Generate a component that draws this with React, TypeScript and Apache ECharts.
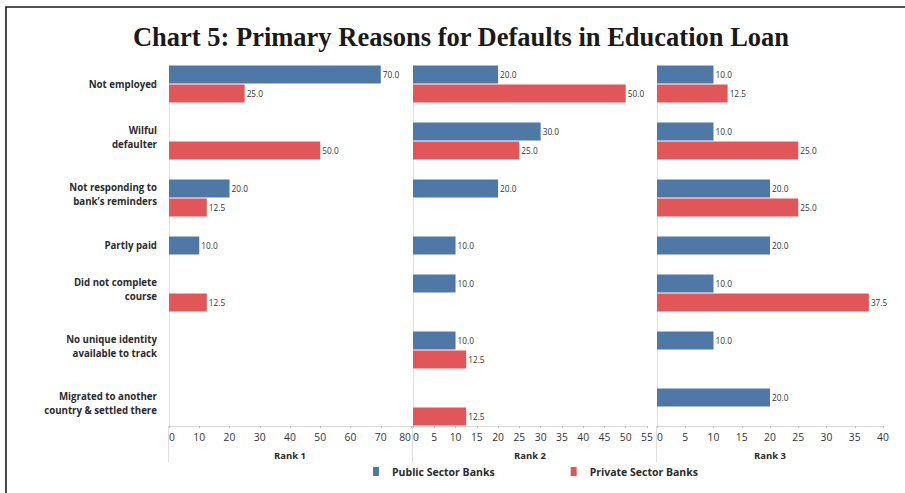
import React, { useEffect, useRef } from "react";
import * as echarts from "echarts";

const titleText = "Chart 5: Primary Reasons for Defaults in Education Loan";
const reasons = [
  "Not employed",
  "Wilful\ndefaulter",
  "Not responding to\nbank’s reminders",
  "Partly paid",
  "Did not complete\ncourse",
  "No unique identity\navailable to track",
  "Migrated to another\ncountry & settled there",
];
const ranks = ["Rank 1", "Rank 2", "Rank 3"];
const rankMax = [80, 55, 40];
const rankInterval = [10, 5, 5];
const seriesNames = ["Public Sector Banks", "Private Sector Banks"];
const colors = ["#4E79A7", "#E15759"];

const publicRank1 = [70, null, 20, 10, null, null, null];
const privateRank1 = [25, 50, 12.5, null, 12.5, null, null];
const publicRank2 = [20, 30, 20, 10, 10, 10, null];
const privateRank2 = [50, 25, null, null, null, 12.5, 12.5];
const publicRank3 = [10, 10, 20, 20, 10, 10, 20];
const privateRank3 = [12.5, 25, 25, null, 37.5, null, null];

const publicByRank = [publicRank1, publicRank2, publicRank3];
const privateByRank = [privateRank1, privateRank2, privateRank3];

export default function App() {
  const ref = useRef<HTMLDivElement>(null);
  useEffect(() => {
    document.body.style.margin = "0";
    const chart = echarts.init(ref.current!, undefined, { renderer: "svg" });

    // slot layout: each row gets one slot per series that has data; rows separated by a gap slot
    type Slot = { key: string; row: number; kind: "pub" | "pri" | "gap" };
    const slots: Slot[] = [];
    reasons.forEach((_, i) => {
      const hasPub = publicByRank.some((a) => a[i] != null);
      const hasPri = privateByRank.some((a) => a[i] != null);
      if (i > 0) slots.push({ key: `gap-${i}`, row: i, kind: "gap" });
      if (hasPub) slots.push({ key: `pub-${i}`, row: i, kind: "pub" });
      if (hasPri) slots.push({ key: `pri-${i}`, row: i, kind: "pri" });
    });
    const slotKeys = slots.map((s) => s.key);

    const slotH = 19;
    const gridTop = 65;
    const gridH = slotH * slots.length;
    const grids = [
      { left: 169, width: 242 },
      { left: 413, width: 234 },
      { left: 657, width: 226 },
    ];

    const labelFont = "Open Sans";

    const series: any[] = [];
    ranks.forEach((_, r) => {
      const pubData = slots.map((s) => (s.kind === "pub" ? publicByRank[r][s.row] : null));
      const priData = slots.map((s) => (s.kind === "pri" ? privateByRank[r][s.row] : null));
      [pubData, priData].forEach((data, k) => {
        series.push({
          type: "bar",
          name: seriesNames[k],
          xAxisIndex: r,
          yAxisIndex: r,
          data,
          barWidth: 18,
          barGap: "-100%",
          itemStyle: { color: colors[k] },
          label: {
            show: true,
            position: "right",
            distance: 2,
            fontSize: 8.3,
            fontFamily: labelFont,
            color: "#333",
            formatter: (p: any) => (p.value == null ? "" : Number(p.value).toFixed(1)),
          },
        });
      });
    });

    const baseGraphic: any[] = [
      {
        type: "rect",
        shape: { x: 6, y: 7, width: 960, height: 560 },
        style: { fill: "none", stroke: "#1a1a1a", lineWidth: 1.6 },
        silent: true,
      },
      {
        type: "text",
        x: 461,
        y: 37,
        style: {
          text: titleText,
          textAlign: "center",
          textVerticalAlign: "middle",
          font: 'bold 26.5px "Liberation Serif"',
          fill: "#1a1a1a",
        },
      },
      ...grids.map((g) => ({
        type: "line",
        shape: { x1: g.left - 0.5, y1: gridTop + gridH, x2: g.left - 0.5, y2: 462 },
        style: { stroke: "#dcdcdc", lineWidth: 1 },
        silent: true,
      })),
    ];

    chart.setOption({
      animation: false,
      graphic: baseGraphic,
      legend: {
        data: seriesNames,
        left: 373,
        top: 466,
        padding: 0,
        icon: "rect",
        itemWidth: 6,
        itemHeight: 9,
        itemGap: 76,
        textStyle: {
          fontSize: 10.5,
          fontWeight: "bold",
          fontFamily: labelFont,
          color: "#2b2b2b",
          padding: [0, 0, 0, 8],
        },
      },
      grid: grids.map((g) => ({ left: g.left, width: g.width, top: gridTop, height: gridH })),
      xAxis: ranks.map((name, r) => ({
        type: "value",
        gridIndex: r,
        min: 0,
        max: rankMax[r],
        interval: rankInterval[r],
        name,
        nameLocation: "middle",
        nameGap: 24,
        nameTextStyle: { fontSize: 9.5, fontWeight: "bold", fontFamily: labelFont, color: "#2b2b2b" },
        splitLine: { show: false },
        axisLine: { show: true, lineStyle: { color: "#d6d6d6" } },
        axisTick: { show: true, length: 2, lineStyle: { color: "#bbb" } },
        axisLabel: {
          fontSize: 10.3,
          fontFamily: labelFont,
          color: "#333",
          margin: 6,
          alignMinLabel: "left",
          alignMaxLabel: r === 0 ? "right" : "center",
        },
      })),
      yAxis: ranks.map((_, r) => ({
        type: "category",
        gridIndex: r,
        inverse: true,
        data: slotKeys,
        axisLine: { show: true, lineStyle: { color: "#e0e0e0" } },
        axisTick: { show: false },
        splitLine: { show: false },
        axisLabel: { show: false },
      })),
      series,
    });

    // category labels centred on each row, placed through the y axis scale
    const labelGraphics = reasons.map((text, i) => {
      const rowSlots = slots.filter((s) => s.row === i && s.kind !== "gap");
      const ys = rowSlots.map((s) => chart.convertToPixel({ yAxisIndex: 0 }, s.key) as number);
      const yc = (Math.min(...ys) + Math.max(...ys)) / 2;
      const multi = text.includes("\n");
      return {
        type: "text",
        x: grids[0].left - 12,
        y: yc + (multi ? -4 : 0),
        style: {
          text,
          textAlign: "right",
          textVerticalAlign: "middle",
          font: `bold 9.7px "${labelFont}"`,
          lineHeight: 14,
          fill: "#2b2b2b",
        },
        silent: true,
      };
    });
    chart.setOption({ graphic: [...baseGraphic, ...labelGraphics] });

    return () => chart.dispose();
  }, []);
  return <div ref={ref} style={{ width: 905, height: 493 }} />;
}
